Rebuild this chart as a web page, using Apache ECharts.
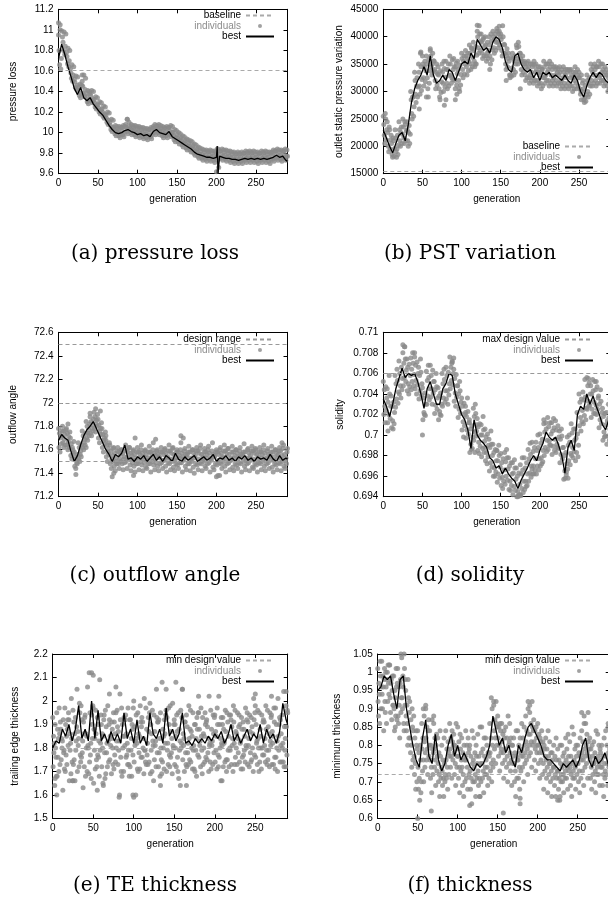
<!DOCTYPE html>
<html><head><meta charset="utf-8">
<script src="https://cdn.jsdelivr.net/npm/echarts@6/dist/echarts.min.js"></script>
<style>html,body{margin:0;padding:0;background:#fff}#c{width:608px;height:909px}</style>
</head><body><div id="c"></div>
<script>
// ---------- generations ----------
const indGen = [0,5,10,15,20,25,30,35,40,45,
50,55,60,65,70,75,80,85,90,95,
100,105,110,115,120,125,130,135,140,145,
150,155,160,165,170,175,180,185,190,195,
200,205,210,215,220,225,230,235,240,245,
250,255,260,265,270,275,280,285,290];
const rowShift7 = [0,0.7,1.4,2.1,2.9,3.6,4.3];
const rowShift8 = [0,0.6,1.25,1.9,2.5,3.1,3.75,4.4];
const rowShift10 = [0,0.5,1,1.5,2,2.5,3,3.5,4,4.5];
const bestGen = [0,4,8,12,16,20,24,28,32,36,
40,44,48,52,56,60,64,68,72,76,
80,84,88,92,96,100,104,108,112,116,
120,124,128,132,136,140,144,148,152,156,
160,164,168,172,176,180,184,188,192,196,
200,204,208,212,216,220,224,228,232,236,
240,244,248,252,256,260,264,268,272,276,
280,284,288,290];
const genA = [0,4,8,12,16,20,24,28,32,36,
40,44,48,52,56,60,64,68,72,76,
80,84,88,92,96,100,104,108,112,116,
120,124,128,132,136,140,144,148,152,156,
160,164,168,172,176,180,184,188,192,196,
200,201,202,204,208,212,216,220,224,228,232,236,
240,244,248,252,256,260,264,268,272,276,
280,284,288,290];

// ---------- (a) pressure loss ----------
const baselineA = [10.61];
const bestA = [10.72,10.86,10.76,10.64,10.54,10.43,10.37,10.44,10.34,10.31,
10.34,10.28,10.24,10.20,10.17,10.12,10.07,10.03,10.00,9.99,
10.00,10.02,10.03,10.01,10.00,9.98,9.99,9.97,9.98,9.96,
10.01,10.03,10.00,9.99,9.98,10.01,9.96,9.94,9.92,9.90,
9.88,9.86,9.84,9.81,9.79,9.78,9.77,9.76,9.76,9.75,
9.76,9.87,9.60,9.77,9.76,9.75,9.75,9.74,9.74,9.73,9.74,9.75,
9.74,9.75,9.74,9.75,9.74,9.75,9.74,9.75,9.76,9.78,
9.76,9.77,9.73,9.72];
const indA1 = [10.95,10.93,10.78,10.62,10.52,10.44,10.50,10.38,10.38,10.32,
10.27,10.23,10.17,10.10,10.05,10.04,10.05,10.08,10.06,10.05,
10.04,10.03,10.02,10.03,10.06,10.06,10.04,10.04,10.05,10.00,
9.98,9.95,9.92,9.90,9.87,9.84,9.82,9.81,9.81,9.80,
9.80,9.82,9.81,9.80,9.79,9.79,9.79,9.80,9.80,9.80,
9.79,9.80,9.80,9.79,9.81,9.82,9.81,9.82,9.77];
const indA2 = [10.80,10.88,10.74,10.58,10.49,10.41,10.45,10.35,10.36,10.29,
10.24,10.20,10.14,10.07,10.03,10.01,10.02,10.05,10.04,10.02,
10.01,10.00,9.99,10.00,10.04,10.04,10.01,10.01,10.02,9.97,
9.95,9.92,9.89,9.87,9.84,9.81,9.79,9.78,9.78,9.77,
9.77,9.79,9.78,9.77,9.76,9.76,9.76,9.77,9.77,9.77,
9.76,9.77,9.77,9.76,9.78,9.79,9.78,9.79,9.74];
const indA3 = [10.66,10.80,10.67,10.53,10.44,10.36,10.38,10.30,10.31,10.25,
10.20,10.16,10.10,10.03,9.99,9.97,9.98,10.01,10.00,9.98,
9.97,9.96,9.95,9.96,10.00,10.00,9.97,9.97,9.98,9.93,
9.91,9.88,9.85,9.83,9.80,9.77,9.75,9.74,9.74,9.73,
9.73,9.75,9.74,9.73,9.72,9.72,9.72,9.73,9.73,9.73,
9.72,9.73,9.73,9.72,9.74,9.75,9.74,9.75,9.70];
const indA4 = [11.05,10.98,10.82,10.66,10.55,10.47,10.56,10.41,10.41,10.35,
10.30,10.26,10.20,10.13,10.07,10.06,10.07,10.13,10.08,10.07,
10.06,10.05,10.04,10.05,10.08,10.08,10.06,10.06,10.07,10.03,
10.00,9.97,9.94,9.92,9.89,9.86,9.84,9.83,9.83,9.82,
9.84,9.84,9.83,9.82,9.81,9.81,9.81,9.82,9.82,9.82,
9.81,9.82,9.82,9.81,9.83,9.84,9.83,9.84,9.79];
const indA5 = [10.62,10.76,10.64,10.50,10.42,10.34,10.35,10.28,10.29,10.23,
10.18,10.14,10.08,10.01,9.97,9.95,9.96,9.99,9.98,9.96,
9.95,9.94,9.93,9.94,9.98,9.98,9.95,9.95,9.96,9.91,
9.89,9.86,9.83,9.81,9.78,9.75,9.73,9.72,9.72,9.71,
9.66,9.73,9.72,9.71,9.70,9.70,9.70,9.71,9.71,9.71,
9.70,9.71,9.71,9.70,9.72,9.73,9.72,9.73,9.69];
const indA6 = [10.72,10.84,10.70,10.56,10.46,10.38,10.42,10.32,10.33,10.27,
10.22,10.18,10.12,10.05,10.01,9.99,10.00,10.03,10.02,10.00,
9.99,9.98,9.97,9.98,10.02,10.02,9.99,9.99,10.00,9.95,
9.93,9.90,9.87,9.85,9.82,9.79,9.77,9.76,9.76,9.75,
9.75,9.77,9.76,9.75,9.74,9.74,9.74,9.75,9.75,9.75,
9.74,9.75,9.75,9.74,9.76,9.77,9.76,9.77,9.72];
const indA7 = [10.99,10.96,10.80,10.64,10.54,10.46,10.53,10.40,10.40,10.34,
10.29,10.25,10.19,10.12,10.06,10.05,10.06,10.10,10.07,10.06,
10.05,10.04,10.03,10.04,10.07,10.07,10.05,10.05,10.06,10.02,
9.99,9.96,9.93,9.91,9.88,9.85,9.83,9.82,9.82,9.81,
9.82,9.83,9.82,9.81,9.80,9.80,9.80,9.81,9.81,9.81,
9.80,9.81,9.81,9.80,9.82,9.83,9.82,9.83,9.78];
const outA = [[0,11.07],[2,11.0],[30,10.56],[87,10.13],[200,9.62],[201,9.84]];

// ---------- (b) PST variation ----------
const baselineB = [15500];
const bestB = [23000,21500,20000,18800,20500,22000,22500,21000,24000,28000,
30500,32000,33000,34500,33000,36500,33000,31500,32000,33000,
32000,34000,33500,32000,33500,35000,35500,35000,37000,36000,
39500,38500,37500,38000,37000,39000,40000,39500,38000,35500,
34000,33500,36500,37000,35000,34000,33500,34000,32500,33500,
32000,33500,33000,33500,32500,33000,32500,32000,33000,32000,
31500,33000,32000,30000,29000,31000,32500,33500,32500,33500,
33000,32000,31500,30500];
const indB1 = [25500,24500,22000,23000,24500,25000,24500,30000,33500,35000,
36500,36500,37500,35500,34500,35000,35500,36500,36000,35500,
37000,37500,38500,39000,41000,40500,40000,40000,41000,41500,
40500,38500,37000,37000,38500,37000,35500,35500,35000,35000,
34500,35500,35000,35000,34500,34500,34500,34000,34000,34500,
33500,32000,33000,35000,35000,35500,35000,34000,33500];
const indB2 = [24000,22500,20500,21500,23000,23500,23000,28500,32000,33500,
35000,35000,36500,34000,33000,33500,34000,35000,34500,34000,
36000,36500,37000,37500,40000,39000,38500,38500,40000,41000,
39500,37000,35500,36000,38000,36000,35000,34500,34500,34000,
33500,34500,34000,34000,34000,33500,33500,33500,33000,33500,
32500,30500,32000,34000,34000,34500,34000,33000,32000];
const indB3 = [22000,20000,18500,19000,21000,21500,21000,26000,29500,31000,
32500,32500,34500,32000,30500,31500,31500,33000,32000,32000,
34000,34500,35000,35500,38000,37000,36500,36500,38000,39000,
37500,35000,33000,34000,36000,34000,33000,32500,32500,32000,
31500,32500,32000,32000,32000,31500,31500,31500,31000,31500,
30500,28500,30000,32000,32000,32500,32000,31000,30000];
const indB4 = [20500,19000,18000,18000,20000,20500,20000,25000,28000,29500,
31000,30500,33000,30500,29000,30000,30500,31500,30500,30500,
32500,33000,34000,34500,37000,36000,35500,35000,37000,38000,
36500,34000,32500,33000,35000,33000,32000,31500,31500,31000,
30500,31500,31000,31000,31000,30500,30500,30500,30000,30500,
29500,28000,29000,31000,31000,31500,31000,30000,29500];
const indB5 = [26000,23500,21500,19500,22500,24500,22500,29000,31000,37000,
34500,29000,35000,33500,28500,35500,34000,32500,34500,30000,
35500,36000,38000,35000,42000,39500,37000,40500,39500,40500,
42000,36500,33000,35500,39000,35500,34500,33000,35500,33500,
34000,33000,35500,32500,33500,32000,33000,34000,32500,33000,
30000,29000,31500,33500,34500,33000,33500,32500,31500];
const indB6 = [25000,23000,21000,22000,23500,24000,23800,29000,32500,34500,
35500,35800,37000,35000,33800,34200,35000,35800,35200,34800,
36500,37000,37800,38200,40500,39800,39000,39200,40500,41000,
40000,37800,36200,36500,38200,36500,35200,35000,34800,34500,
34000,35000,34500,34500,34200,34000,34000,33800,33500,34000,
33000,31200,32500,34500,34500,35000,34500,33500,32800];
const indB7 = [21200,19500,18200,18500,20500,21000,20500,25500,29000,30200,
31800,31500,33800,31200,29800,30800,31000,32200,31200,31200,
33200,33800,34500,35000,37500,36500,36000,35800,37500,38500,
37000,34500,32800,33500,35500,33500,32500,32000,32000,31500,
31000,32000,31500,31500,31500,31000,31000,31000,30500,31000,
30000,28200,29500,31500,31500,32000,31500,30500,29800];
const indB8 = [23000,21200,19600,20200,22200,22800,22200,27200,30800,32200,
33800,33800,35600,33200,31800,32600,32900,34000,33300,33100,
35000,35500,36200,36600,39200,38200,37500,37600,39000,40000,
38600,36000,34300,35000,37000,35000,34000,33500,33500,33000,
32500,33500,33000,33000,33000,32500,32500,32500,32000,32500,
31500,29400,31000,33000,33000,33500,33000,32000,31000];
const outB = [[46,26800],[48,37200],[55,29000],[60,37800],[78,27500],[80,28500],[92,28500],[94,29500],
[120,42100],[136,34000],[148,41900],[157,32000],[175,30500],[253,28500]];

// ---------- (c) outflow angle ----------
const designRangeC = [72.5,72.0,71.5];
const bestC = [71.68,71.73,71.70,71.68,71.58,71.50,71.55,71.64,71.72,71.77,
71.80,71.84,71.78,71.72,71.66,71.60,71.56,71.50,71.56,71.54,
71.57,71.64,71.52,71.53,71.50,71.54,71.52,71.55,71.50,71.53,
71.56,71.51,71.54,71.50,71.55,71.53,71.50,71.57,71.52,71.50,
71.54,71.51,71.53,71.55,71.50,71.52,71.54,71.51,71.53,71.56,
71.50,71.53,71.52,71.55,71.51,71.53,71.50,71.54,71.52,71.55,
71.51,71.53,71.50,71.54,71.52,71.53,71.51,71.56,71.52,71.50,
71.55,71.51,71.53,71.52];
const indC1 = [71.78,71.80,71.78,71.70,71.58,71.66,71.76,71.84,71.88,71.92,
71.86,71.78,71.68,71.64,71.62,71.62,71.60,71.64,71.62,71.60,
71.62,71.64,71.60,71.63,71.66,71.60,71.62,71.61,71.64,71.62,
71.60,71.66,71.61,71.63,71.60,71.62,71.64,71.61,71.63,71.66,
71.60,71.62,71.64,71.61,71.63,71.60,71.62,71.65,71.61,71.63,
71.60,71.62,71.64,71.61,71.63,71.60,71.62,71.64,71.61];
const indC2 = [71.62,71.66,71.64,71.55,71.46,71.52,71.62,71.70,71.74,71.78,
71.70,71.62,71.54,71.48,71.46,71.48,71.48,71.50,71.47,71.46,
71.48,71.47,71.45,71.48,71.47,71.46,71.49,71.46,71.48,71.45,
71.47,71.49,71.46,71.48,71.45,71.47,71.48,71.46,71.49,71.45,
71.47,71.48,71.46,71.49,71.45,71.47,71.48,71.46,71.49,71.45,
71.47,71.48,71.46,71.49,71.45,71.47,71.48,71.46,71.49];
const indC3 = [71.74,71.76,71.74,71.65,71.54,71.62,71.72,71.80,71.84,71.88,
71.81,71.73,71.64,71.59,71.57,71.58,71.57,71.60,71.57,71.56,
71.58,71.57,71.56,71.58,71.57,71.56,71.58,71.57,71.59,71.56,
71.58,71.57,71.56,71.58,71.57,71.59,71.56,71.58,71.57,71.56,
71.58,71.57,71.59,71.56,71.58,71.57,71.56,71.58,71.57,71.59,
71.56,71.58,71.57,71.56,71.58,71.57,71.59,71.56,71.58];
const indC4 = [71.58,71.62,71.60,71.52,71.44,71.50,71.60,71.68,71.72,71.75,
71.66,71.58,71.50,71.44,71.42,71.44,71.43,71.44,71.42,71.41,
71.43,71.42,71.44,71.41,71.43,71.42,71.44,71.41,71.43,71.42,
71.44,71.41,71.43,71.42,71.40,71.43,71.42,71.44,71.41,71.43,
71.38,71.44,71.41,71.43,71.42,71.44,71.41,71.43,71.42,71.44,
71.41,71.43,71.42,71.44,71.41,71.43,71.42,71.44,71.43];
const indC5 = [71.70,71.69,71.67,71.62,71.52,71.56,71.66,71.74,71.78,71.82,
71.76,71.68,71.58,71.52,71.50,71.52,71.52,71.54,71.52,71.51,
71.53,71.52,71.51,71.53,71.52,71.54,71.51,71.53,71.52,71.51,
71.53,71.52,71.54,71.51,71.53,71.52,71.51,71.53,71.52,71.54,
71.51,71.53,71.52,71.51,71.53,71.52,71.54,71.51,71.53,71.52,
71.51,71.53,71.52,71.54,71.51,71.53,71.52,71.51,71.53];
const indC6 = [71.72,71.73,71.71,71.60,71.49,71.59,71.69,71.77,71.81,71.85,
71.78,71.70,71.61,71.55,71.53,71.56,71.54,71.58,71.55,71.53,
71.56,71.54,71.53,71.56,71.55,71.53,71.56,71.54,71.57,71.53,
71.55,71.54,71.56,71.53,71.55,71.57,71.54,71.56,71.53,71.55,
71.56,71.54,71.57,71.53,71.55,71.54,71.56,71.53,71.55,71.57,
71.54,71.56,71.53,71.55,71.54,71.56,71.55,71.53,71.56];
const indC7 = [71.65,71.64,71.62,71.57,71.48,71.54,71.64,71.72,71.76,71.80,
71.73,71.65,71.56,71.50,71.48,71.50,71.49,71.52,71.49,71.48,
71.50,71.49,71.48,71.50,71.49,71.48,71.51,71.49,71.50,71.48,
71.49,71.51,71.48,71.50,71.48,71.49,71.50,71.48,71.51,71.48,
71.49,71.50,71.48,71.51,71.48,71.49,71.50,71.48,71.51,71.48,
71.49,71.50,71.48,71.51,71.48,71.49,71.50,71.48,71.51];
const indC8 = [71.76,71.77,71.75,71.67,71.56,71.64,71.74,71.82,71.86,71.90,
71.83,71.75,71.66,71.61,71.59,71.60,71.59,71.62,71.59,71.58,
71.60,71.59,71.58,71.60,71.59,71.58,71.60,71.59,71.61,71.58,
71.60,71.59,71.58,71.60,71.59,71.61,71.58,71.60,71.59,71.58,
71.60,71.59,71.61,71.58,71.60,71.59,71.58,71.60,71.59,71.61,
71.58,71.60,71.59,71.58,71.60,71.59,71.61,71.58,71.60];
const outC = [[22,71.39],[40,71.91],[47,71.95],[53,71.93],[68,71.37],[70,71.40],[95,71.38],[97,71.70],
[123,71.69],[155,71.72],[158,71.70],[200,71.37],[204,71.38],[283,71.66],[12,71.82],[35,71.62],[60,71.72]];

// ---------- (d) solidity ----------
const maxDesignD = [0.706];
const bestD = [0.7035,0.7028,0.7018,0.7030,0.7045,0.7055,0.7065,0.7056,0.7060,0.7058,
0.7060,0.7052,0.7040,0.7026,0.7045,0.7052,0.7040,0.7030,0.7030,0.7045,
0.7050,0.7060,0.7058,0.7040,0.7030,0.7020,0.7015,0.7005,0.6987,0.7015,
0.7000,0.6995,0.6992,0.6988,0.6978,0.6975,0.6968,0.6970,0.6962,0.6968,
0.6962,0.6958,0.6955,0.6948,0.6956,0.6962,0.6968,0.6975,0.6980,0.6975,
0.6985,0.6992,0.7003,0.6998,0.6995,0.6998,0.6990,0.6980,0.6963,0.6988,
0.6995,0.6985,0.7020,0.7028,0.7025,0.7040,0.7030,0.7038,0.7028,0.7020,
0.7010,0.7005,0.7015,0.7012];
const indD1 = [0.7052,0.7045,0.7038,0.7058,0.7072,0.7080,0.7074,0.7075,0.7076,0.7066,
0.7046,0.7062,0.7068,0.7052,0.7046,0.7060,0.7066,0.7076,0.7064,0.7048,
0.7036,0.7028,0.7015,0.7026,0.7016,0.7010,0.7006,0.6996,0.6991,0.6985,
0.6982,0.6983,0.6978,0.6973,0.6968,0.6971,0.6978,0.6986,0.6993,0.6993,
0.7001,0.7011,0.7017,0.7012,0.7014,0.7004,0.6988,0.6998,0.7011,0.7006,
0.7040,0.7042,0.7056,0.7048,0.7052,0.7038,0.7026,0.7022,0.7028];
const indD2 = [0.7020,0.7012,0.7007,0.7027,0.7040,0.7048,0.7043,0.7044,0.7045,0.7035,
0.7015,0.7030,0.7037,0.7021,0.7015,0.7028,0.7035,0.7045,0.7033,0.7017,
0.7005,0.6997,0.6983,0.6995,0.6985,0.6979,0.6975,0.6965,0.6960,0.6954,
0.6951,0.6952,0.6947,0.6942,0.6940,0.6941,0.6947,0.6955,0.6962,0.6962,
0.6970,0.6980,0.6986,0.6981,0.6983,0.6973,0.6957,0.6967,0.6980,0.6975,
0.7009,0.7011,0.7025,0.7017,0.7021,0.7007,0.6995,0.6991,0.6997];
const indD3 = [0.7044,0.7032,0.7028,0.7050,0.7060,0.7070,0.7066,0.7064,0.7068,0.7058,
0.7036,0.7053,0.7058,0.7044,0.7038,0.7050,0.7058,0.7066,0.7055,0.7040,
0.7028,0.7018,0.7006,0.7018,0.7008,0.7000,0.6998,0.6988,0.6983,0.6975,
0.6973,0.6974,0.6970,0.6963,0.6960,0.6962,0.6968,0.6977,0.6984,0.6985,
0.6992,0.7003,0.7008,0.7004,0.7005,0.6996,0.6980,0.6990,0.7002,0.6997,
0.7032,0.7034,0.7048,0.7040,0.7044,0.7030,0.7018,0.7014,0.7020];
const indD4 = [0.7028,0.7020,0.7014,0.7035,0.7048,0.7056,0.7050,0.7052,0.7053,0.7043,
0.7022,0.7038,0.7045,0.7029,0.7023,0.7036,0.7043,0.7053,0.7041,0.7025,
0.7013,0.7005,0.6991,0.7003,0.6993,0.6987,0.6983,0.6973,0.6968,0.6962,
0.6959,0.6960,0.6955,0.6950,0.6945,0.6948,0.6955,0.6963,0.6970,0.6970,
0.6978,0.6988,0.6994,0.6989,0.6991,0.6981,0.6965,0.6975,0.6988,0.6983,
0.7017,0.7019,0.7033,0.7025,0.7029,0.7015,0.7003,0.6999,0.7005];
const indD5 = [0.7012,0.7058,0.7006,0.7064,0.7036,0.7086,0.7040,0.7080,0.7040,0.7074,
0.7020,0.7068,0.7030,0.7060,0.7020,0.7064,0.7030,0.7070,0.7028,0.7052,
0.6998,0.7036,0.6986,0.7030,0.6982,0.7018,0.6972,0.7004,0.6960,0.6990,
0.6948,0.6986,0.6946,0.6976,0.6941,0.6978,0.6950,0.6992,0.6962,0.7000,
0.6972,0.7012,0.6990,0.7016,0.6988,0.7006,0.6958,0.7000,0.6978,0.7022,
0.7004,0.7054,0.7028,0.7054,0.7020,0.7044,0.6998,0.7030,0.6996];
const indD6 = [0.7047,0.7040,0.7032,0.7053,0.7066,0.7074,0.7069,0.7070,0.7071,0.7061,
0.7041,0.7056,0.7063,0.7047,0.7041,0.7054,0.7061,0.7071,0.7059,0.7043,
0.7031,0.7023,0.7009,0.7021,0.7011,0.7005,0.7001,0.6991,0.6986,0.6980,
0.6977,0.6978,0.6973,0.6968,0.6963,0.6966,0.6973,0.6981,0.6988,0.6988,
0.6996,0.7006,0.7012,0.7007,0.7009,0.6999,0.6983,0.6993,0.7006,0.7001,
0.7035,0.7037,0.7051,0.7043,0.7047,0.7033,0.7021,0.7017,0.7023];
const indD7 = [0.7024,0.7016,0.7011,0.7031,0.7044,0.7052,0.7047,0.7048,0.7049,0.7039,
0.7019,0.7034,0.7041,0.7025,0.7019,0.7032,0.7039,0.7049,0.7037,0.7021,
0.7009,0.7001,0.6987,0.6999,0.6989,0.6983,0.6979,0.6969,0.6964,0.6958,
0.6955,0.6956,0.6951,0.6946,0.6942,0.6944,0.6951,0.6959,0.6966,0.6966,
0.6974,0.6984,0.6990,0.6985,0.6987,0.6977,0.6961,0.6971,0.6984,0.6979,
0.7013,0.7015,0.7029,0.7021,0.7025,0.7011,0.6999,0.6995,0.7001];
const indD8 = [0.7036,0.7028,0.7022,0.7042,0.7055,0.7063,0.7058,0.7059,0.7060,0.7050,
0.7030,0.7045,0.7052,0.7036,0.7030,0.7043,0.7050,0.7060,0.7048,0.7032,
0.7020,0.7012,0.6998,0.7010,0.7000,0.6994,0.6990,0.6980,0.6975,0.6969,
0.6966,0.6967,0.6962,0.6957,0.6952,0.6955,0.6962,0.6970,0.6977,0.6977,
0.6985,0.6995,0.7001,0.6996,0.6998,0.6988,0.6972,0.6982,0.6995,0.6990,
0.7024,0.7026,0.7040,0.7032,0.7036,0.7022,0.7010,0.7006,0.7012];
const outD = [[25,0.7088],[27,0.7086],[40,0.7080],[50,0.7000],[6,0.7004],[90,0.7075],[88,0.7072],[105,0.7022],
[110,0.7012],[117,0.6983],[130,0.6988],[172,0.6940],[175,0.6942],[190,0.6967],[205,0.7015],[236,0.6958],
[234,0.6964],[262,0.7055],[272,0.7052],[290,0.7035],[119,0.7004],[145,0.6985]];

// ---------- (e) TE thickness ----------
const minDesignE = [1.8];
const bestE = [1.80,1.83,1.82,1.88,1.85,1.90,1.83,1.88,1.98,1.84,
1.88,1.83,2.00,1.84,1.96,1.83,1.86,1.82,1.87,1.83,
1.86,1.82,1.95,1.84,1.88,1.82,1.92,1.82,1.85,1.81,
1.95,1.86,1.84,1.88,1.82,1.97,1.85,1.88,1.83,1.86,
1.95,1.82,1.83,1.81,1.84,1.82,1.84,1.82,1.85,1.83,
1.86,1.84,1.87,1.82,1.85,1.90,1.83,1.86,1.82,1.85,
1.88,1.83,1.86,1.84,1.90,1.82,1.88,1.84,1.86,1.82,
1.87,1.99,1.92,1.90];
const indE1 = [1.93,1.95,1.88,1.97,1.92,1.96,2.05,1.98,1.94,2.12,
1.97,1.93,1.90,1.96,1.92,1.95,1.89,1.97,1.94,1.92,
2.00,1.95,1.93,1.97,1.99,1.94,1.91,2.08,1.96,1.98,
1.92,1.95,2.05,1.94,1.96,1.90,1.95,1.93,1.92,1.96,
1.94,2.02,1.93,1.95,1.92,1.96,1.94,1.91,1.95,1.93,
1.98,1.95,1.92,1.96,1.94,1.97,1.93,2.04,1.95];
const indE2 = [1.72,1.68,1.75,1.70,1.66,1.73,1.70,1.76,1.68,1.74,
1.65,1.77,1.72,1.69,1.75,1.71,1.73,1.68,1.76,1.72,
1.74,1.70,1.76,1.73,1.69,1.75,1.72,1.74,1.70,1.76,
1.73,1.67,1.75,1.72,1.74,1.70,1.76,1.73,1.75,1.71,
1.74,1.76,1.72,1.75,1.73,1.76,1.74,1.77,1.73,1.75,
1.76,1.74,1.77,1.75,1.73,1.76,1.74,1.72,1.75];
const indE3 = [1.85,1.88,1.84,1.90,1.86,1.91,1.87,1.92,1.86,1.95,
1.88,1.90,1.86,1.89,1.85,1.91,1.87,1.90,1.86,1.92,
1.89,1.86,1.91,1.88,1.90,1.87,1.92,1.88,1.93,1.87,
1.90,1.88,1.86,1.89,1.87,1.90,1.88,1.86,1.89,1.88,
1.87,1.90,1.88,1.91,1.89,1.87,1.90,1.88,1.91,1.89,
1.90,1.88,1.91,1.89,1.87,1.90,1.92,1.89,1.93];
const indE4 = [1.78,1.76,1.80,1.77,1.79,1.75,1.81,1.78,1.80,1.77,
1.79,1.76,1.80,1.78,1.81,1.77,1.79,1.80,1.77,1.79,
1.81,1.78,1.80,1.77,1.79,1.81,1.78,1.80,1.79,1.78,
1.80,1.79,1.81,1.78,1.80,1.79,1.81,1.80,1.78,1.81,
1.79,1.80,1.82,1.79,1.81,1.80,1.82,1.79,1.81,1.80,
1.82,1.80,1.81,1.79,1.82,1.80,1.81,1.79,1.78];
const indE5 = [1.82,1.84,1.83,1.85,1.82,1.86,1.84,1.83,1.85,1.82,
1.84,1.83,1.85,1.82,1.84,1.86,1.83,1.85,1.82,1.84,
1.83,1.85,1.84,1.82,1.86,1.83,1.84,1.85,1.82,1.84,
1.85,1.83,1.84,1.82,1.85,1.84,1.83,1.85,1.84,1.83,
1.85,1.84,1.83,1.85,1.84,1.86,1.83,1.85,1.84,1.86,
1.83,1.85,1.84,1.86,1.85,1.83,1.86,1.84,1.85];
const indE6 = [1.64,1.70,1.62,1.73,1.69,1.66,1.72,1.63,1.70,1.67,
1.71,1.68,1.64,1.72,1.69,1.74,1.60,1.70,1.73,1.68,
1.60,1.71,1.69,1.73,1.70,1.72,1.68,1.71,1.73,1.69,
1.72,1.64,1.70,1.73,1.71,1.68,1.72,1.74,1.70,1.73,
1.71,1.66,1.74,1.72,1.70,1.73,1.71,1.74,1.72,1.70,
1.73,1.71,1.74,1.72,1.73,1.70,1.74,1.72,1.73];
const indE7 = [1.90,1.97,1.92,1.88,2.01,1.93,1.99,1.91,2.06,1.94,
1.96,2.09,1.92,1.98,1.91,1.95,2.03,1.93,1.97,1.90,
1.94,1.98,2.01,1.93,1.96,2.05,1.95,1.92,1.97,1.99,
1.94,1.96,1.91,1.98,1.95,1.93,1.97,1.95,2.02,1.94,
1.97,1.93,1.96,1.94,1.98,1.95,1.93,1.97,1.94,2.01,
1.96,1.94,1.98,1.95,1.97,2.01,1.94,1.98,2.05];
const indE8 = [1.80,1.86,1.78,1.92,1.84,1.79,1.95,1.86,1.81,1.90,
1.86,1.79,1.94,1.83,1.88,1.80,1.92,1.85,1.79,1.88,
1.84,1.91,1.79,1.87,1.83,1.93,1.80,1.86,1.90,1.81,
1.87,1.80,1.91,1.84,1.79,1.88,1.85,1.90,1.81,1.86,
1.90,1.82,1.87,1.80,1.91,1.84,1.88,1.81,1.87,1.92,
1.84,1.80,1.88,1.83,1.91,1.85,1.80,1.89,1.86];
const indE9 = [1.76,1.73,1.79,1.81,1.74,1.83,1.77,1.72,1.80,1.84,
1.75,1.82,1.78,1.74,1.80,1.83,1.76,1.81,1.73,1.77,
1.82,1.76,1.79,1.74,1.81,1.78,1.75,1.82,1.77,1.80,
1.76,1.82,1.78,1.75,1.81,1.77,1.79,1.76,1.82,1.78,
1.77,1.81,1.75,1.79,1.82,1.78,1.76,1.80,1.78,1.77,
1.80,1.77,1.79,1.81,1.76,1.79,1.82,1.77,1.80];
const indE10 = [1.68,1.91,1.71,1.95,1.66,1.89,1.74,1.93,1.69,1.98,
1.72,1.94,1.67,1.90,1.73,1.96,1.70,1.92,1.68,1.97,
1.71,1.89,1.74,1.95,1.66,1.91,1.69,1.94,1.72,1.90,
1.70,1.93,1.73,1.88,1.71,1.95,1.69,1.91,1.74,1.93,
1.72,1.90,1.70,1.94,1.73,1.89,1.71,1.92,1.74,1.95,
1.70,1.91,1.73,1.93,1.71,1.90,1.74,1.96,1.72];
const outE = [[5,1.60],[48,2.12],[50,2.11],[82,1.59],[99,1.60],[100,1.59],[133,1.64],[152,2.08],[165,1.64],
[209,1.66],[78,2.06],[3,1.67],[25,1.66],[55,1.62],[62,1.65],[70,2.03],[140,2.05],[160,2.05],[180,2.02],
[250,2.03],[270,2.02],[288,2.04]];

// ---------- (f) thickness ----------
const minDesignF = [0.72];
const bestF = [0.95,0.96,0.99,0.98,0.99,0.94,0.90,0.98,0.99,0.90,
0.85,0.80,0.76,0.74,0.82,0.87,0.77,0.75,0.83,0.76,
0.73,0.75,0.80,0.83,0.77,0.80,0.76,0.78,0.76,0.74,
0.73,0.75,0.74,0.75,0.77,0.80,0.88,0.84,0.80,0.82,
0.78,0.80,0.76,0.74,0.80,0.78,0.82,0.85,0.86,0.84,
0.82,0.80,0.77,0.76,0.76,0.75,0.74,0.73,0.75,0.74,
0.75,0.76,0.74,0.76,0.80,0.82,0.76,0.74,0.77,0.75,
0.76,0.78,0.75,0.72];
const indF1 = [1.01,1.03,1.00,1.02,0.99,1.01,1.04,0.95,0.92,0.88,
0.84,0.86,0.90,0.84,0.86,0.82,0.80,0.84,0.86,0.83,
0.85,0.82,0.84,0.80,0.82,0.83,0.85,0.82,0.86,0.91,
0.88,0.86,0.85,0.86,0.82,0.84,0.86,0.88,0.89,0.87,
0.86,0.84,0.82,0.81,0.80,0.79,0.80,0.82,0.81,0.83,
0.80,0.84,0.86,0.82,0.81,0.83,0.80,0.84,0.79];
const indF2 = [0.92,0.94,0.96,0.93,0.90,0.88,0.93,0.88,0.82,0.77,
0.74,0.79,0.82,0.76,0.79,0.75,0.73,0.76,0.79,0.78,
0.77,0.74,0.76,0.73,0.74,0.73,0.75,0.76,0.78,0.84,
0.82,0.81,0.79,0.78,0.75,0.76,0.79,0.81,0.83,0.81,
0.80,0.78,0.76,0.75,0.74,0.73,0.74,0.76,0.74,0.76,
0.75,0.78,0.80,0.76,0.75,0.77,0.74,0.77,0.73];
const indF3 = [0.88,0.90,0.86,0.89,0.84,0.86,0.90,0.84,0.78,0.72,
0.68,0.73,0.76,0.71,0.74,0.70,0.69,0.71,0.74,0.72,
0.71,0.69,0.71,0.68,0.70,0.69,0.71,0.72,0.73,0.79,
0.77,0.75,0.74,0.73,0.70,0.71,0.74,0.76,0.78,0.76,
0.75,0.72,0.71,0.70,0.69,0.68,0.70,0.71,0.69,0.71,
0.70,0.73,0.75,0.71,0.70,0.72,0.69,0.72,0.70];
const indF4 = [0.97,0.99,0.98,0.97,0.95,0.96,0.99,0.91,0.87,0.82,
0.78,0.82,0.85,0.80,0.82,0.78,0.76,0.79,0.82,0.80,
0.81,0.78,0.80,0.77,0.78,0.77,0.79,0.80,0.82,0.87,
0.85,0.83,0.82,0.82,0.78,0.80,0.82,0.84,0.86,0.84,
0.83,0.81,0.79,0.78,0.77,0.76,0.77,0.79,0.77,0.79,
0.78,0.81,0.83,0.79,0.78,0.80,0.77,0.80,0.76];
const indF5 = [0.94,0.96,1.00,0.98,0.93,0.91,0.96,0.86,0.80,0.75,
0.71,0.76,0.79,0.74,0.76,0.72,0.71,0.74,0.77,0.75,
0.74,0.72,0.74,0.71,0.72,0.71,0.73,0.74,0.75,0.82,
0.80,0.78,0.77,0.76,0.73,0.74,0.77,0.79,0.81,0.79,
0.78,0.75,0.74,0.73,0.72,0.71,0.72,0.74,0.72,0.74,
0.73,0.76,0.78,0.74,0.73,0.75,0.72,0.75,0.71];
const indF6 = [0.86,0.84,0.92,0.87,0.88,0.82,0.86,0.80,0.74,0.68,
0.65,0.70,0.72,0.67,0.69,0.66,0.66,0.68,0.71,0.69,
0.67,0.66,0.68,0.64,0.66,0.66,0.67,0.69,0.70,0.75,
0.73,0.71,0.70,0.69,0.66,0.68,0.70,0.72,0.74,0.73,
0.71,0.68,0.67,0.66,0.66,0.65,0.67,0.68,0.66,0.68,
0.67,0.69,0.71,0.68,0.67,0.69,0.66,0.69,0.68];
const indF7 = [1.03,0.98,1.02,0.95,1.01,0.97,1.05,0.98,0.90,0.84,
0.80,0.88,0.84,0.87,0.80,0.84,0.82,0.81,0.84,0.86,
0.83,0.80,0.82,0.84,0.80,0.85,0.82,0.78,0.90,0.92,
0.86,0.84,0.88,0.80,0.84,0.82,0.85,0.90,0.92,0.85,
0.82,0.80,0.84,0.78,0.82,0.80,0.78,0.83,0.85,0.80,
0.82,0.86,0.89,0.80,0.84,0.79,0.82,0.86,0.81];
const indF8 = [0.99,1.01,0.97,0.99,0.96,0.98,1.01,0.93,0.85,0.80,
0.76,0.81,0.87,0.79,0.83,0.77,0.75,0.78,0.81,0.79,
0.79,0.76,0.78,0.75,0.77,0.75,0.77,0.78,0.80,0.86,
0.84,0.82,0.80,0.80,0.77,0.78,0.80,0.83,0.85,0.82,
0.81,0.79,0.77,0.76,0.76,0.75,0.75,0.77,0.75,0.77,
0.77,0.79,0.81,0.77,0.76,0.78,0.75,0.78,0.74];
const indF9 = [0.90,0.92,0.94,0.91,0.87,0.89,0.91,0.82,0.76,0.70,
0.67,0.74,0.77,0.72,0.73,0.71,0.70,0.72,0.76,0.74,
0.73,0.70,0.72,0.70,0.71,0.70,0.72,0.71,0.74,0.80,
0.78,0.76,0.75,0.75,0.71,0.73,0.75,0.77,0.80,0.78,
0.76,0.73,0.72,0.71,0.71,0.70,0.71,0.73,0.71,0.72,
0.71,0.74,0.77,0.72,0.72,0.74,0.71,0.74,0.69];
const indF10 = [0.96,0.89,1.02,0.91,0.97,0.93,0.98,0.89,0.84,0.79,
0.70,0.78,0.80,0.78,0.77,0.74,0.72,0.77,0.80,0.77,
0.76,0.77,0.79,0.76,0.75,0.78,0.74,0.77,0.76,0.85,
0.79,0.79,0.81,0.77,0.76,0.77,0.78,0.80,0.84,0.80,
0.79,0.77,0.75,0.74,0.73,0.72,0.73,0.75,0.73,0.75,
0.76,0.77,0.79,0.75,0.74,0.76,0.73,0.76,0.72];
const outF = [[50,0.60],[67,0.62],[157,0.615],[178,0.64],[178,0.655],[115,0.635],[142,0.93],[145,0.92],
[188,0.92],[190,0.91],[60,0.91],[57,0.90],[255,0.89],[258,0.88],[288,0.85],[29,1.05],[22,0.85],
[33,0.84],[70,0.88],[128,0.66],[225,0.65],[228,0.66]];

// ---------- layout / styles ----------
const FONT = '"Liberation Sans", Arial, Helvetica, sans-serif';
const SERIF = '"DejaVu Serif", "Liberation Serif", serif';
const panels = [
  {grid:{left:58.5, top:9.3, width:229, height:164.4}, y:[9.6,11.2,0.2], yName:'pressure loss', nameGap:40,
   ref:'baseline', refVals:baselineA, refColor:'#aaaaaa', bestX:genA, bestY:bestA,
   rows:[indA1,indA2,indA3,indA4,indA5,indA6,indA7], shifts:rowShift7, extra:outA,
   caption:'(a) pressure loss', cap:[155,254], leg:{right:333, top:10.5}},
  {grid:{left:383.3, top:9.3, width:227, height:164.4}, y:[15000,45000,5000], yName:'outlet static pressure variation', nameGap:39,
   ref:'baseline', refVals:baselineB, refColor:'#aaaaaa', bestX:bestGen, bestY:bestB,
   rows:[indB1,indB2,indB3,indB4,indB5,indB6,indB7,indB8], shifts:rowShift8, extra:outB,
   caption:'(b) PST variation', cap:[470,254], leg:{right:14, top:141.5}},
  {grid:{left:58.5, top:332.3, width:229, height:164.4}, y:[71.2,72.6,0.2], yName:'outflow angle', nameGap:40,
   ref:'design range', refVals:designRangeC, refColor:'#999999', bestX:bestGen, bestY:bestC,
   rows:[indC1,indC2,indC3,indC4,indC5,indC6,indC7,indC8], shifts:rowShift8, extra:outC,
   caption:'(c) outflow angle', cap:[155,576], leg:{right:333, top:334.5}},
  {grid:{left:383.3, top:332.3, width:227, height:164.4}, y:[0.694,0.71,0.002], yName:'solidity', nameGap:38,
   ref:'max design value', refVals:maxDesignD, refColor:'#999999', bestX:bestGen, bestY:bestD,
   rows:[indD1,indD2,indD3,indD4,indD5,indD6,indD7,indD8], shifts:rowShift8, extra:outD,
   caption:'(d) solidity', cap:[470,576], leg:{right:14, top:334.5}},
  {grid:{left:52.7, top:654, width:235, height:164.4}, y:[1.5,2.2,0.1], yName:'trailing edge thickness', nameGap:32,
   ref:'min design value', refVals:minDesignE, refColor:'#aaaaaa', bestX:bestGen, bestY:bestE,
   rows:[indE1,indE2,indE3,indE4,indE5,indE6,indE7,indE8,indE9,indE10], shifts:rowShift10, extra:outE,
   caption:'(e) TE thickness', cap:[155,886], leg:{right:333, top:655.5}},
  {grid:{left:377.7, top:654, width:232, height:164.4}, y:[0.6,1.05,0.05], yName:'minimum thickness', nameGap:35,
   ref:'min design value', refVals:minDesignF, refColor:'#aaaaaa', bestX:bestGen, bestY:bestF,
   rows:[indF1,indF2,indF3,indF4,indF5,indF6,indF7,indF8,indF9,indF10], shifts:rowShift10, extra:outF,
   caption:'(f) thickness', cap:[470,886], leg:{right:14, top:655.5}}
];

const fmt = v => String(parseFloat(Number(v).toFixed(5)));
const grid=[], xAxis=[], yAxis=[], series=[], legend=[], title=[];
panels.forEach((p,g)=>{
  grid.push(Object.assign({containLabel:false, outerBoundsMode:'none'}, p.grid));
  const line = {show:true, onZero:false, lineStyle:{color:'#000', width:1}};
  const tick = {show:true, inside:true, length:4, lineStyle:{color:'#000', width:1}};
  const xb = {type:'value', gridIndex:g, min:0, max:290, interval:50, axisLine:line, axisTick:tick, splitLine:{show:false}};
  xAxis.push(Object.assign({}, xb, {position:'bottom', name:'generation', nameLocation:'middle', nameGap:21,
    nameTextStyle:{fontSize:10, color:'#000', fontFamily:FONT},
    axisLabel:{show:true, fontSize:10, color:'#000', margin:5, showMaxLabel:false, fontFamily:FONT}}));
  xAxis.push(Object.assign({}, xb, {position:'top', axisLabel:{show:false}}));
  const yb = {type:'value', gridIndex:g, min:p.y[0], max:p.y[1], interval:p.y[2], axisLine:line, axisTick:tick, splitLine:{show:false}};
  yAxis.push(Object.assign({}, yb, {position:'left', name:p.yName, nameLocation:'middle', nameGap:p.nameGap, nameRotate:90,
    nameTextStyle:{fontSize:10, color:'#000', fontFamily:FONT},
    axisLabel:{show:true, fontSize:10, color:'#000', margin:5, formatter:fmt, fontFamily:FONT}}));
  yAxis.push(Object.assign({}, yb, {position:'right', axisLabel:{show:false}}));

  const dash = {color:p.refColor, width:1, type:[4,3]};
  series.push({type:'line', name:p.ref, xAxisIndex:2*g, yAxisIndex:2*g, data:[], symbol:'none',
    lineStyle:dash, itemStyle:{color:p.refColor}, z:1, silent:true,
    markLine:{silent:true, symbol:'none', animation:false, precision:6, label:{show:false}, lineStyle:dash,
      emphasis:{disabled:true}, data:p.refVals.map(v=>({yAxis:v}))}});
  const pts = [];
  p.rows.forEach((row,k)=>row.forEach((v,i)=>pts.push([indGen[i]+p.shifts[k], v])));
  p.extra.forEach(d=>pts.push(d));
  series.push({type:'scatter', name:'individuals', xAxisIndex:2*g, yAxisIndex:2*g, data:pts, symbol:'circle',
    symbolSize:5, itemStyle:{color:'#8a8a8a'}, z:2, silent:true, clip:true, large:false});
  series.push({type:'line', name:'best', xAxisIndex:2*g, yAxisIndex:2*g, data:p.bestX.map((x,i)=>[x,p.bestY[i]]),
    symbol:'none', lineStyle:{color:'#000', width:1.3}, itemStyle:{color:'#000'}, z:3, silent:true, clip:true});

  legend.push({orient:'vertical', align:'right', right:p.leg.right, top:p.leg.top, padding:0,
    itemWidth:28, itemHeight:4, itemGap:0.5, selectedMode:false,
    textStyle:{fontSize:10, color:'#000', fontFamily:FONT, lineHeight:10},
    data:[{name:p.ref, itemStyle:{opacity:0}},
          {name:'individuals', textStyle:{color:'#8c8c8c'}},
          {name:'best', itemStyle:{opacity:0}}]});
  title.push({text:p.caption, left:p.cap[0], top:p.cap[1], textAlign:'center', textVerticalAlign:'middle', padding:0,
    textStyle:{fontFamily:SERIF, fontSize:20, fontWeight:'normal', color:'#000'}});
});

const chart = echarts.init(document.getElementById('c'), null, {renderer:'canvas'});
chart.setOption({animation:false, backgroundColor:'#fff', textStyle:{fontFamily:FONT},
  grid, xAxis, yAxis, series, legend, title});
</script></body></html>
